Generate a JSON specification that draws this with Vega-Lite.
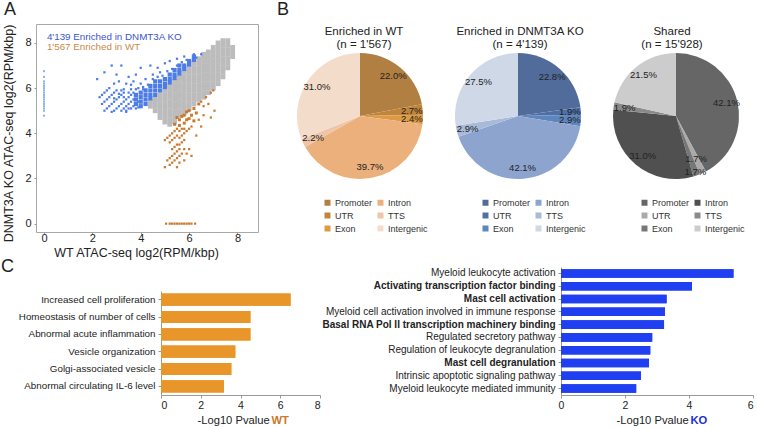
{"$schema":"https://vega.github.io/schema/vega-lite/v6.json","padding":{"left":0,"top":0,"right":0,"bottom":0},"background":"white","config":{"font":"Liberation Sans","view":{"stroke":null},"title":{"fontWeight":"normal","color":"#222"},"axis":{"grid":false,"labelColor":"#222","titleColor":"#222","titleFontWeight":"normal"}},"spacing":-1,"bounds":"full",
"vconcat":[
{"spacing":0,"hconcat":[
{"width":1,"height":1,"data":{"values":[{"a":0}]},"mark":{"type":"point","opacity":0,"size":0},"encoding":{}},
{"width":222,"height":208,"view":{"stroke":"#a8a8a8"},
"title":{"text":"A","anchor":"start","frame":"group","dx":-32,"fontSize":18,"offset":4},
"layer":[
{"data":{"values":[
{"x":0,"y":5.0,"g":"c"},{"x":0,"y":5.1,"g":"c"},{"x":0,"y":5.2,"g":"c"},{"x":0,"y":5.3,"g":"c"},{"x":0,"y":5.4,"g":"c"},{"x":0,"y":5.5,"g":"c"},{"x":0,"y":5.6,"g":"c"},{"x":0,"y":5.7,"g":"c"},{"x":0,"y":5.8,"g":"c"},{"x":0,"y":5.9,"g":"c"},{"x":0,"y":6.0,"g":"c"},{"x":0,"y":6.1,"g":"c"},{"x":0,"y":6.2,"g":"c"},{"x":0,"y":6.3,"g":"c"},{"x":0,"y":6.5,"g":"c"},{"x":0,"y":6.75,"g":"c"},{"x":0,"y":4.78,"g":"c"},
{"x":4.4,"y":5.2,"g":"S"},{"x":4.4,"y":5.4,"g":"S"},{"x":4.6,"y":5.0,"g":"S"},{"x":4.6,"y":5.2,"g":"S"},{"x":4.6,"y":5.4,"g":"S"},{"x":4.6,"y":5.5,"g":"S"},
{"x":4.8,"y":4.7,"g":"S"},{"x":4.8,"y":4.9,"g":"S"},{"x":4.8,"y":5.1,"g":"S"},{"x":4.8,"y":5.3,"g":"S"},{"x":4.8,"y":5.5,"g":"S"},{"x":4.8,"y":5.7,"g":"S"},
{"x":5.0,"y":4.5,"g":"S"},{"x":5.0,"y":4.7,"g":"S"},{"x":5.0,"y":4.9,"g":"S"},{"x":5.0,"y":5.1,"g":"S"},{"x":5.0,"y":5.3,"g":"S"},{"x":5.0,"y":5.5,"g":"S"},{"x":5.0,"y":5.7,"g":"S"},{"x":5.0,"y":5.9,"g":"S"},
{"x":5.2,"y":4.4,"g":"S"},{"x":5.2,"y":4.6,"g":"S"},{"x":5.2,"y":4.8,"g":"S"},{"x":5.2,"y":5.0,"g":"S"},{"x":5.2,"y":5.2,"g":"S"},{"x":5.2,"y":5.4,"g":"S"},{"x":5.2,"y":5.6,"g":"S"},{"x":5.2,"y":5.8,"g":"S"},{"x":5.2,"y":6.0,"g":"S"},{"x":5.2,"y":6.1,"g":"S"},
{"x":5.4,"y":4.5,"g":"S"},{"x":5.4,"y":4.7,"g":"S"},{"x":5.4,"y":4.9,"g":"S"},{"x":5.4,"y":5.1,"g":"S"},{"x":5.4,"y":5.3,"g":"S"},{"x":5.4,"y":5.5,"g":"S"},{"x":5.4,"y":5.7,"g":"S"},{"x":5.4,"y":5.9,"g":"S"},{"x":5.4,"y":6.1,"g":"S"},{"x":5.4,"y":6.3,"g":"S"},
{"x":5.6,"y":4.8,"g":"S"},{"x":5.6,"y":5.0,"g":"S"},{"x":5.6,"y":5.2,"g":"S"},{"x":5.6,"y":5.4,"g":"S"},{"x":5.6,"y":5.6,"g":"S"},{"x":5.6,"y":5.8,"g":"S"},{"x":5.6,"y":6.0,"g":"S"},{"x":5.6,"y":6.2,"g":"S"},{"x":5.6,"y":6.4,"g":"S"},{"x":5.6,"y":6.5,"g":"S"},
{"x":5.8,"y":4.9,"g":"S"},{"x":5.8,"y":5.1,"g":"S"},{"x":5.8,"y":5.3,"g":"S"},{"x":5.8,"y":5.5,"g":"S"},{"x":5.8,"y":5.7,"g":"S"},{"x":5.8,"y":5.9,"g":"S"},{"x":5.8,"y":6.1,"g":"S"},{"x":5.8,"y":6.3,"g":"S"},{"x":5.8,"y":6.5,"g":"S"},{"x":5.8,"y":6.7,"g":"S"},
{"x":6.0,"y":5.1,"g":"S"},{"x":6.0,"y":5.3,"g":"S"},{"x":6.0,"y":5.5,"g":"S"},{"x":6.0,"y":5.7,"g":"S"},{"x":6.0,"y":5.9,"g":"S"},{"x":6.0,"y":6.1,"g":"S"},{"x":6.0,"y":6.3,"g":"S"},{"x":6.0,"y":6.5,"g":"S"},{"x":6.0,"y":6.7,"g":"S"},{"x":6.0,"y":6.9,"g":"S"},
{"x":6.2,"y":5.3,"g":"S"},{"x":6.2,"y":5.5,"g":"S"},{"x":6.2,"y":5.7,"g":"S"},{"x":6.2,"y":5.9,"g":"S"},{"x":6.2,"y":6.1,"g":"S"},{"x":6.2,"y":6.3,"g":"S"},{"x":6.2,"y":6.5,"g":"S"},{"x":6.2,"y":6.7,"g":"S"},{"x":6.2,"y":6.9,"g":"S"},{"x":6.2,"y":7.1,"g":"S"},
{"x":6.4,"y":5.5,"g":"S"},{"x":6.4,"y":5.7,"g":"S"},{"x":6.4,"y":5.9,"g":"S"},{"x":6.4,"y":6.1,"g":"S"},{"x":6.4,"y":6.3,"g":"S"},{"x":6.4,"y":6.5,"g":"S"},{"x":6.4,"y":6.7,"g":"S"},{"x":6.4,"y":6.9,"g":"S"},{"x":6.4,"y":7.1,"g":"S"},{"x":6.4,"y":7.3,"g":"S"},
{"x":6.6,"y":5.6,"g":"S"},{"x":6.6,"y":5.8,"g":"S"},{"x":6.6,"y":6.0,"g":"S"},{"x":6.6,"y":6.2,"g":"S"},{"x":6.6,"y":6.4,"g":"S"},{"x":6.6,"y":6.6,"g":"S"},{"x":6.6,"y":6.8,"g":"S"},{"x":6.6,"y":7.0,"g":"S"},{"x":6.6,"y":7.2,"g":"S"},{"x":6.6,"y":7.4,"g":"S"},{"x":6.6,"y":7.5,"g":"S"},
{"x":6.8,"y":5.8,"g":"S"},{"x":6.8,"y":6.0,"g":"S"},{"x":6.8,"y":6.2,"g":"S"},{"x":6.8,"y":6.4,"g":"S"},{"x":6.8,"y":6.6,"g":"S"},{"x":6.8,"y":6.8,"g":"S"},{"x":6.8,"y":7.0,"g":"S"},{"x":6.8,"y":7.2,"g":"S"},{"x":6.8,"y":7.4,"g":"S"},{"x":6.8,"y":7.6,"g":"S"},
{"x":7.0,"y":6.0,"g":"S"},{"x":7.0,"y":6.2,"g":"S"},{"x":7.0,"y":6.4,"g":"S"},{"x":7.0,"y":6.6,"g":"S"},{"x":7.0,"y":6.8,"g":"S"},{"x":7.0,"y":7.0,"g":"S"},{"x":7.0,"y":7.2,"g":"S"},{"x":7.0,"y":7.4,"g":"S"},{"x":7.0,"y":7.6,"g":"S"},{"x":7.0,"y":7.8,"g":"S"},
{"x":7.2,"y":6.2,"g":"S"},{"x":7.2,"y":6.4,"g":"S"},{"x":7.2,"y":6.6,"g":"S"},{"x":7.2,"y":6.8,"g":"S"},{"x":7.2,"y":7.0,"g":"S"},{"x":7.2,"y":7.2,"g":"S"},{"x":7.2,"y":7.4,"g":"S"},{"x":7.2,"y":7.6,"g":"S"},{"x":7.2,"y":7.8,"g":"S"},{"x":7.2,"y":8.0,"g":"S"},
{"x":7.4,"y":6.5,"g":"S"},{"x":7.4,"y":6.7,"g":"S"},{"x":7.4,"y":6.9,"g":"S"},{"x":7.4,"y":7.1,"g":"S"},{"x":7.4,"y":7.3,"g":"S"},{"x":7.4,"y":7.5,"g":"S"},{"x":7.4,"y":7.7,"g":"S"},{"x":7.4,"y":7.9,"g":"S"},{"x":7.4,"y":8.1,"g":"S"},
{"x":7.6,"y":6.9,"g":"S"},{"x":7.6,"y":7.1,"g":"S"},{"x":7.6,"y":7.3,"g":"S"},{"x":7.6,"y":7.5,"g":"S"},{"x":7.6,"y":7.7,"g":"S"},{"x":7.6,"y":7.9,"g":"S"},{"x":7.6,"y":8.1,"g":"S"},
{"x":7.8,"y":7.4,"g":"S"},{"x":7.8,"y":7.6,"g":"S"},{"x":7.8,"y":7.8,"g":"S"},
{"x":3.8,"y":5.3,"g":"B"},{"x":3.8,"y":5.5,"g":"B"},{"x":3.8,"y":5.7,"g":"B"},{"x":4.0,"y":5.2,"g":"B"},{"x":4.0,"y":5.4,"g":"B"},{"x":4.0,"y":5.6,"g":"B"},{"x":4.0,"y":5.8,"g":"B"},{"x":4.2,"y":5.3,"g":"B"},{"x":4.2,"y":5.5,"g":"B"},{"x":4.2,"y":5.7,"g":"B"},{"x":4.2,"y":5.9,"g":"B"},{"x":4.4,"y":5.55,"g":"B"},{"x":4.4,"y":5.7,"g":"B"},{"x":4.4,"y":5.9,"g":"B"},{"x":4.4,"y":6.1,"g":"B"},{"x":4.6,"y":5.7,"g":"B"},{"x":4.6,"y":5.9,"g":"B"},{"x":4.6,"y":6.1,"g":"B"},{"x":4.6,"y":6.3,"g":"B"},{"x":4.8,"y":5.9,"g":"B"},{"x":4.8,"y":6.1,"g":"B"},{"x":4.8,"y":6.3,"g":"B"},{"x":5.0,"y":6.05,"g":"B"},{"x":5.0,"y":6.2,"g":"B"},{"x":5.0,"y":6.4,"g":"B"},{"x":5.2,"y":6.25,"g":"B"},{"x":5.2,"y":6.4,"g":"B"},{"x":5.2,"y":6.6,"g":"B"},{"x":5.4,"y":6.45,"g":"B"},{"x":5.4,"y":6.6,"g":"B"},{"x":5.4,"y":6.8,"g":"B"},{"x":5.6,"y":6.65,"g":"B"},{"x":5.6,"y":6.8,"g":"B"},{"x":5.6,"y":7.0,"g":"B"},{"x":5.8,"y":6.85,"g":"B"},{"x":5.8,"y":7.0,"g":"B"},{"x":6.0,"y":7.05,"g":"B"},{"x":6.0,"y":7.2,"g":"B"},{"x":6.2,"y":7.25,"g":"B"},{"x":6.2,"y":7.4,"g":"B"},
{"x":2.5,"y":5.0,"g":"b"},{"x":2.6,"y":5.1,"g":"b"},{"x":2.7,"y":5.2,"g":"b"},{"x":2.8,"y":5.3,"g":"b"},{"x":2.9,"y":5.4,"g":"b"},{"x":3.0,"y":5.5,"g":"b"},{"x":3.1,"y":5.6,"g":"b"},{"x":3.2,"y":5.7,"g":"b"},{"x":3.3,"y":5.8,"g":"b"},
{"x":2.9,"y":5.0,"g":"b"},{"x":3.0,"y":5.1,"g":"b"},{"x":3.1,"y":5.2,"g":"b"},{"x":3.2,"y":5.3,"g":"b"},{"x":3.3,"y":5.4,"g":"b"},{"x":3.4,"y":5.5,"g":"b"},{"x":3.5,"y":5.6,"g":"b"},{"x":3.6,"y":5.7,"g":"b"},{"x":3.7,"y":5.8,"g":"b"},
{"x":3.2,"y":5.0,"g":"b"},{"x":3.3,"y":5.1,"g":"b"},{"x":3.4,"y":5.2,"g":"b"},{"x":3.5,"y":5.3,"g":"b"},{"x":3.6,"y":5.4,"g":"b"},{"x":3.7,"y":5.5,"g":"b"},
{"x":3.6,"y":5.1,"g":"b"},{"x":3.7,"y":5.2,"g":"b"},{"x":3.8,"y":5.1,"g":"b"},{"x":3.9,"y":5.15,"g":"b"},
{"x":2.4,"y":5.3,"g":"b"},{"x":2.5,"y":5.4,"g":"b"},{"x":2.6,"y":5.5,"g":"b"},{"x":2.7,"y":5.6,"g":"b"},{"x":2.8,"y":5.7,"g":"b"},{"x":2.9,"y":5.8,"g":"b"},{"x":3.0,"y":5.9,"g":"b"},
{"x":2.3,"y":5.6,"g":"b"},{"x":2.4,"y":5.7,"g":"b"},{"x":2.5,"y":5.8,"g":"b"},{"x":2.6,"y":5.9,"g":"b"},{"x":2.7,"y":6.0,"g":"b"},
{"x":2.2,"y":6.4,"g":"b"},{"x":2.5,"y":6.7,"g":"b"},{"x":2.8,"y":7.0,"g":"b"},{"x":3.2,"y":7.0,"g":"b"},{"x":3.0,"y":6.6,"g":"b"},{"x":3.5,"y":6.5,"g":"b"},{"x":3.8,"y":6.6,"g":"b"},{"x":4.0,"y":6.9,"g":"b"},{"x":4.4,"y":7.0,"g":"b"},{"x":4.7,"y":6.9,"g":"b"},{"x":5.0,"y":7.1,"g":"b"},{"x":5.2,"y":7.2,"g":"b"},{"x":5.5,"y":7.3,"g":"b"},{"x":5.8,"y":7.4,"g":"b"},{"x":6.2,"y":7.5,"g":"b"},{"x":4.2,"y":6.4,"g":"b"},{"x":4.5,"y":6.6,"g":"b"},{"x":4.8,"y":6.7,"g":"b"},{"x":3.4,"y":6.2,"g":"b"},{"x":3.7,"y":6.3,"g":"b"},{"x":4.0,"y":6.2,"g":"b"},{"x":3.3,"y":5.95,"g":"b"},{"x":3.6,"y":5.95,"g":"b"},{"x":3.9,"y":6.0,"g":"b"},{"x":2.9,"y":6.2,"g":"b"},{"x":3.1,"y":6.3,"g":"b"},
{"x":2.8,"y":4.95,"g":"b"},{"x":3.4,"y":4.95,"g":"b"},{"x":3.9,"y":5.4,"g":"b"},{"x":3.3,"y":5.6,"g":"b"},{"x":3.5,"y":5.8,"g":"b"},{"x":3.4,"y":5.0,"g":"b"},{"x":3.5,"y":5.1,"g":"b"},{"x":2.9,"y":5.55,"g":"b"},{"x":3.1,"y":5.75,"g":"b"},{"x":3.2,"y":5.9,"g":"b"},{"x":3.8,"y":5.95,"g":"b"},{"x":4.1,"y":6.05,"g":"b"},{"x":4.3,"y":6.15,"g":"b"},{"x":4.1,"y":5.95,"g":"b"},{"x":3.6,"y":6.15,"g":"b"},{"x":4.5,"y":6.4,"g":"b"},{"x":4.7,"y":6.5,"g":"b"},{"x":4.9,"y":6.55,"g":"b"},{"x":5.1,"y":6.75,"g":"b"},{"x":5.3,"y":6.85,"g":"b"},{"x":5.5,"y":7.0,"g":"b"},{"x":5.7,"y":7.15,"g":"b"},{"x":5.9,"y":7.25,"g":"b"},{"x":6.3,"y":7.35,"g":"b"},{"x":6.5,"y":7.5,"g":"b"},
{"x":5.4,"y":4.4,"g":"O"},{"x":5.6,"y":4.6,"g":"O"},{"x":5.8,"y":4.8,"g":"O"},{"x":6.0,"y":5.0,"g":"O"},{"x":6.2,"y":5.1,"g":"O"},{"x":6.4,"y":5.3,"g":"O"},{"x":5.5,"y":4.7,"g":"O"},{"x":5.7,"y":4.75,"g":"O"},{"x":5.9,"y":4.6,"g":"O"},{"x":6.1,"y":4.8,"g":"O"},{"x":6.3,"y":4.9,"g":"O"},{"x":5.6,"y":4.35,"g":"O"},{"x":5.8,"y":4.45,"g":"O"},{"x":6.0,"y":4.65,"g":"O"},{"x":5.9,"y":4.95,"g":"O"},{"x":6.2,"y":4.55,"g":"O"},
{"x":5.0,"y":3.7,"g":"o"},{"x":5.1,"y":3.8,"g":"o"},{"x":5.2,"y":3.9,"g":"o"},{"x":5.3,"y":4.0,"g":"o"},{"x":5.4,"y":4.1,"g":"o"},{"x":5.5,"y":4.2,"g":"o"},{"x":5.6,"y":4.1,"g":"o"},{"x":5.7,"y":4.2,"g":"o"},{"x":5.8,"y":4.2,"g":"o"},
{"x":5.2,"y":3.6,"g":"o"},{"x":5.3,"y":3.7,"g":"o"},{"x":5.4,"y":3.8,"g":"o"},{"x":5.5,"y":3.9,"g":"o"},{"x":5.6,"y":3.8,"g":"o"},{"x":5.7,"y":3.9,"g":"o"},{"x":5.8,"y":4.0,"g":"o"},{"x":5.9,"y":4.1,"g":"o"},{"x":6.0,"y":4.2,"g":"o"},{"x":6.1,"y":4.3,"g":"o"},
{"x":5.3,"y":3.3,"g":"o"},{"x":5.4,"y":3.4,"g":"o"},{"x":5.5,"y":3.5,"g":"o"},{"x":5.6,"y":3.5,"g":"o"},{"x":5.7,"y":3.6,"g":"o"},{"x":5.8,"y":3.7,"g":"o"},
{"x":5.1,"y":2.8,"g":"o"},{"x":5.2,"y":2.9,"g":"o"},{"x":5.3,"y":3.0,"g":"o"},{"x":5.4,"y":3.1,"g":"o"},{"x":5.5,"y":3.2,"g":"o"},{"x":5.6,"y":3.3,"g":"o"},{"x":5.8,"y":3.3,"g":"o"},{"x":6.0,"y":3.3,"g":"o"},
{"x":5.2,"y":2.6,"g":"o"},{"x":5.3,"y":2.7,"g":"o"},{"x":5.4,"y":2.8,"g":"o"},{"x":5.5,"y":2.9,"g":"o"},{"x":5.6,"y":3.0,"g":"o"},{"x":5.7,"y":3.1,"g":"o"},{"x":5.9,"y":3.1,"g":"o"},{"x":5.5,"y":2.5,"g":"o"},{"x":5.6,"y":2.7,"g":"o"},{"x":5.8,"y":2.8,"g":"o"},{"x":6.1,"y":3.0,"g":"o"},{"x":5.0,"y":2.5,"g":"o"},
{"x":6.5,"y":5.4,"g":"o"},{"x":6.7,"y":5.6,"g":"o"},{"x":6.9,"y":5.8,"g":"o"},{"x":7.0,"y":5.9,"g":"o"},{"x":6.6,"y":5.2,"g":"o"},{"x":6.8,"y":5.3,"g":"o"},{"x":6.4,"y":4.6,"g":"o"},{"x":6.6,"y":4.8,"g":"o"},{"x":7.05,"y":5.0,"g":"o"},{"x":6.5,"y":4.3,"g":"o"},{"x":6.9,"y":4.7,"g":"o"},{"x":6.3,"y":3.9,"g":"o"},
{"x":5.05,"y":0,"g":"o"},{"x":5.2,"y":0,"g":"o"},{"x":5.3,"y":0,"g":"o"},{"x":5.4,"y":0,"g":"o"},{"x":5.5,"y":0,"g":"o"},{"x":5.6,"y":0,"g":"o"},{"x":5.7,"y":0,"g":"o"},{"x":5.8,"y":0,"g":"o"},{"x":5.9,"y":0,"g":"o"},{"x":6.0,"y":0,"g":"o"},{"x":6.1,"y":0,"g":"o"},{"x":6.25,"y":0,"g":"o"}
]},
"mark":{"type":"point","shape":"square","filled":true,"opacity":1,"strokeWidth":0},
"encoding":{
"x":{"field":"x","type":"quantitative","scale":{"domain":[-0.33,8.85],"nice":false,"zero":false},"axis":{"values":[0,2,4,6,8],"domain":false,"tickSize":2,"tickColor":"#999","labelFontSize":11,"labelPadding":-2,"title":"WT ATAC-seq log2(RPM/kbp)","titleFontSize":12.5,"titleX":100,"titleY":24,"titleBaseline":"alphabetic"}},
"y":{"field":"y","type":"quantitative","scale":{"domain":[-0.37,8.84],"nice":false,"zero":false},"axis":{"values":[0,2,4,6,8],"domain":false,"tickSize":2,"tickColor":"#999","labelFontSize":11,"labelPadding":3,"title":"DNMT3A KO ATAC-seq log2(RPM/kbp)","titleFontSize":12.5,"titleY":109,"titleX":-21}},
"color":{"field":"g","type":"nominal","legend":null,"scale":{"domain":["S","B","b","c","O","o"],"range":["#bcbcbc","#4d7de4","#4d7de4","#8fb0ee","#c97a30","#c97a30"]}},
"size":{"field":"g","type":"nominal","legend":null,"scale":{"type":"ordinal","domain":["S","B","b","c","O","o"],"range":[24,18,5,4,9,5]}}
}},
{"data":{"values":[{"x":0.12,"y":8.26,"t":"4'139 Enriched in DNMT3A KO","k":"blue"},{"x":0.12,"y":7.82,"t":"1'567 Enriched in WT","k":"orange"}]},
"mark":{"type":"text","align":"left","fontSize":9.8},
"encoding":{"x":{"field":"x","type":"quantitative"},"y":{"field":"y","type":"quantitative"},"text":{"field":"t"},
"color":{"field":"k","type":"nominal","legend":null,"scale":{"domain":["blue","orange"],"range":["#3c55cc","#cc8a48"]}}}}
],"resolve":{"scale":{"color":"independent"}}},
{"width":18,"height":1,"data":{"values":[{"a":0}]},"mark":{"type":"point","opacity":0,"size":0},"encoding":{}},
{"spacing":0,"vconcat":[
{"width":1,"height":1,"title":{"text":"B","anchor":"start","frame":"group","dx":-20,"fontSize":18,"offset":5},"data":{"values":[{"a":0}]},"mark":{"type":"point","opacity":0,"size":0},"encoding":{}},
{"spacing":27,"hconcat":[
{"width":126,"height":126,"title":{"text":["Enriched in WT","(n = 1'567)"],"fontSize":11.5,"lineHeight":13,"offset":3,"dx":4},
"data":{"values":[{"c":"Promoter","v":22.0,"o":1,"l":"22.0%"},{"c":"UTR","v":2.7,"o":2,"l":"2.7%"},{"c":"Exon","v":2.4,"o":3,"l":"2.4%"},{"c":"Intron","v":39.7,"o":4,"l":"39.7%"},{"c":"TTS","v":2.2,"o":5,"l":"2.2%"},{"c":"Intergenic","v":31.0,"o":6,"l":"31.0%"}]},
"encoding":{"theta":{"field":"v","type":"quantitative","stack":true},"order":{"field":"o","type":"ordinal"}},
"layer":[{"mark":{"type":"arc"},"encoding":{"color":{"field":"c","type":"nominal","sort":null,"scale":{"domain":["Promoter","UTR","Exon","Intron","TTS","Intergenic"],"range":["#b27f42","#c0853a","#dd9a45","#ebb07c","#eec5a8","#f4dccb"]},"legend":{"title":null,"orient":"none","legendX":26,"legendY":145,"columns":2,"symbolType":"square","symbolSize":36,"symbolStrokeWidth":0,"labelFontSize":9,"labelColor":"#333","rowPadding":3,"columnPadding":3,"labelOffset":3}}}},
{"mark":{"type":"text","radius":52,"fontSize":9.5,"color":"#222"},"encoding":{"detail":{"field":"c"},"text":{"field":"l"}}}]},
{"width":126,"height":126,"title":{"text":["Enriched in DNMT3A KO","(n = 4'139)"],"fontSize":11.5,"lineHeight":13,"offset":3,"dx":2},
"data":{"values":[{"c":"Promoter","v":22.8,"o":1,"l":"22.8%"},{"c":"UTR","v":1.9,"o":2,"l":"1.9%"},{"c":"Exon","v":2.9,"o":3,"l":"2.9%"},{"c":"Intron","v":42.1,"o":4,"l":"42.1%"},{"c":"TTS","v":2.9,"o":5,"l":"2.9%"},{"c":"Intergenic","v":27.5,"o":6,"l":"27.5%"}]},
"encoding":{"theta":{"field":"v","type":"quantitative","stack":true},"order":{"field":"o","type":"ordinal"}},
"layer":[{"mark":{"type":"arc"},"encoding":{"color":{"field":"c","type":"nominal","sort":null,"scale":{"domain":["Promoter","UTR","Exon","Intron","TTS","Intergenic"],"range":["#516b9b","#4f6fa8","#5f85bd","#8ca4ce","#a9bad9","#cfd8e7"]},"legend":{"title":null,"orient":"none","legendX":26,"legendY":145,"columns":2,"symbolType":"square","symbolSize":36,"symbolStrokeWidth":0,"labelFontSize":9,"labelColor":"#333","rowPadding":3,"columnPadding":3,"labelOffset":3}}}},
{"mark":{"type":"text","radius":52,"fontSize":9.5,"color":"#222"},"encoding":{"detail":{"field":"c"},"text":{"field":"l"}}}]},
{"width":126,"height":126,"title":{"text":["Shared","(n = 15'928)"],"fontSize":11.5,"lineHeight":13,"offset":3,"dx":-4},
"data":{"values":[{"c":"Promoter","v":42.1,"o":1,"l":"42.1%"},{"c":"UTR","v":1.7,"o":2,"l":"1.7%"},{"c":"Exon","v":1.7,"o":3,"l":"1.7%"},{"c":"Intron","v":31.0,"o":4,"l":"31.0%"},{"c":"TTS","v":1.9,"o":5,"l":"1.9%"},{"c":"Intergenic","v":21.5,"o":6,"l":"21.5%"}]},
"encoding":{"theta":{"field":"v","type":"quantitative","stack":true},"order":{"field":"o","type":"ordinal"}},
"layer":[{"mark":{"type":"arc"},"encoding":{"color":{"field":"c","type":"nominal","sort":null,"scale":{"domain":["Promoter","UTR","Exon","Intron","TTS","Intergenic"],"range":["#666666","#aaaaaa","#777777","#505050","#8a8a8a","#cccccc"]},"legend":{"title":null,"orient":"none","legendX":27,"legendY":145,"columns":2,"symbolType":"square","symbolSize":36,"symbolStrokeWidth":0,"labelFontSize":9,"labelColor":"#333","rowPadding":3,"columnPadding":3,"labelOffset":3}}}},
{"mark":{"type":"text","radius":{"expr":"datum.c=='Exon'?59:(datum.c=='UTR'?47:52)"},"fontSize":9.5,"color":"#222"},"encoding":{"detail":{"field":"c"},"text":{"field":"l"}}}]}
],"resolve":{"scale":{"color":"independent"}}}
]}
],"resolve":{"scale":{"color":"independent"}}},
{"spacing":0,"hconcat":[
{"width":1,"height":1,"data":{"values":[{"a":0}]},"mark":{"type":"point","opacity":0,"size":0},"encoding":{}},
{"spacing":0,"vconcat":[
{"width":159,"height":24,"title":{"text":"C","anchor":"start","frame":"group","dx":-160,"fontSize":18,"offset":-9},"data":{"values":[{"a":0}]},"mark":{"type":"point","opacity":0,"size":0},"encoding":{}},
{"width":159,"height":104,
"data":{"values":[{"t":"Increased cell proliferation","v":6.52},{"t":"Homeostasis of number of cells","v":4.5},{"t":"Abnormal acute inflammation","v":4.5},{"t":"Vesicle organization","v":3.74},{"t":"Golgi-associated vesicle","v":3.54},{"t":"Abnormal circulating IL-6 level","v":3.17}]},
"encoding":{"y":{"field":"t","type":"nominal","sort":null,"scale":{"paddingInner":0.3,"paddingOuter":0.15},"axis":{"title":null,"domainColor":"#999","tickColor":"#999","tickSize":3,"labelFontSize":9.8,"labelPadding":3,"labelLimit":300}}},
"layer":[
{"mark":{"type":"bar","color":"#e8962a"},"encoding":{"x":{"field":"v","type":"quantitative","scale":{"domain":[0,8],"nice":false},"axis":{"orient":"bottom","values":[0,2,4,6,8],"domainColor":"#999","tickColor":"#999","tickSize":3,"labelFontSize":10.5,"labelPadding":2,"title":"-Log10 Pvalue","titleFontSize":11.2,"titleX":36,"titleY":28,"titleAlign":"left","titleBaseline":"alphabetic"}}}},
{"mark":{"type":"bar","color":"#e8962a"},"encoding":{"x":{"field":"v","type":"quantitative","scale":{"domain":[0,8],"nice":false},"axis":{"orient":"bottom","labels":false,"ticks":false,"domain":false,"title":"WT","titleColor":"#c9782c","titleFontWeight":"bold","titleFontSize":11.2,"titleX":110,"titleY":28,"titleAlign":"left","titleBaseline":"alphabetic"}}}}
],"resolve":{"axis":{"x":"independent"}}}
]},
{"width":192,"height":128,
"data":{"values":[{"t":"Myeloid leukocyte activation","v":5.39},{"t":"Activating transcription factor binding","v":4.09},{"t":"Mast cell activation","v":3.3},{"t":"Myeloid cell activation involved in immune response","v":3.25},{"t":"Basal RNA Pol II transcription machinery binding","v":3.22},{"t":"Regulated secretory pathway","v":2.85},{"t":"Regulation of leukocyte degranulation","v":2.79},{"t":"Mast cell degranulation","v":2.75},{"t":"Intrinsic apoptotic signaling pathway","v":2.5},{"t":"Myeloid leukocyte mediated immunity","v":2.35}]},
"encoding":{"y":{"field":"t","type":"nominal","sort":null,"scale":{"paddingInner":0.33,"paddingOuter":0.17},"axis":{"title":null,"domainColor":"#999","tickColor":"#999","tickSize":3,"labelFontSize":10,"labelPadding":3,"labelLimit":300,"labelFontWeight":{"condition":{"test":"indexof(['Activating transcription factor binding','Mast cell activation','Basal RNA Pol II transcription machinery binding','Mast cell degranulation'],datum.value)>=0","value":"bold"},"value":"normal"}}}},
"layer":[
{"mark":{"type":"bar","color":"#1f3ff0"},"encoding":{"x":{"field":"v","type":"quantitative","scale":{"domain":[0,6],"nice":false},"axis":{"orient":"bottom","values":[0,2,4,6],"domainColor":"#999","tickColor":"#999","tickSize":3,"labelFontSize":10.5,"labelPadding":2,"labelAlign":{"condition":{"test":"datum.value==6","value":"right"},"value":"center"},"title":"-Log10 Pvalue","titleFontSize":11.2,"titleX":55,"titleY":28,"titleAlign":"left","titleBaseline":"alphabetic"}}}},
{"mark":{"type":"bar","color":"#1f3ff0"},"encoding":{"x":{"field":"v","type":"quantitative","scale":{"domain":[0,6],"nice":false},"axis":{"orient":"bottom","labels":false,"ticks":false,"domain":false,"title":"KO","titleColor":"#1a2fd0","titleFontWeight":"bold","titleFontSize":11.2,"titleX":129,"titleY":28,"titleAlign":"left","titleBaseline":"alphabetic"}}}}
],"resolve":{"axis":{"x":"independent"}}}
]}
]}
